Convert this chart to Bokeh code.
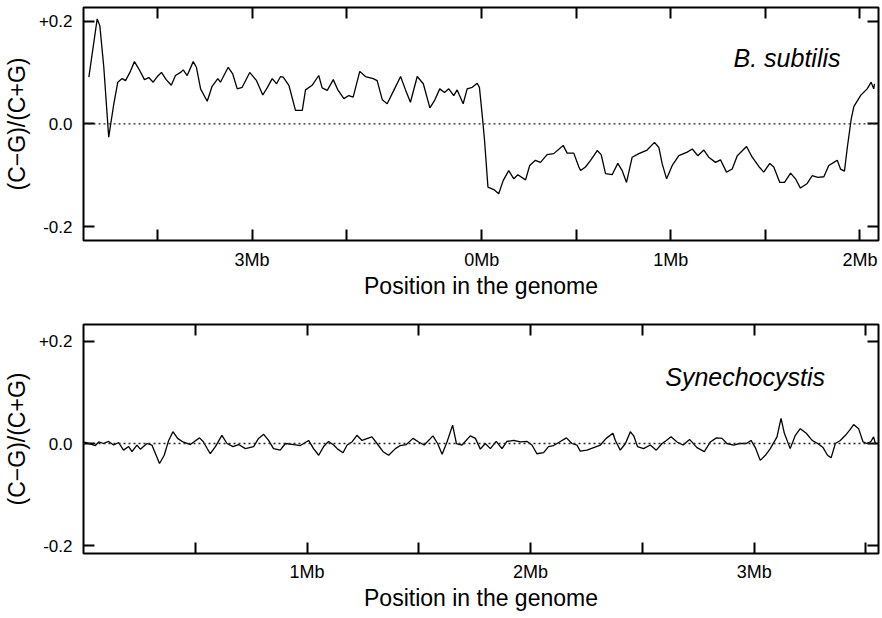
from bokeh.plotting import figure
from bokeh.layouts import column
from bokeh.models import FixedTicker, LinearAxis, Range1d, Span, Label
from bokeh.embed import file_html
from bokeh.resources import INLINE

FONT = "Liberation Sans"

# ---- B. subtilis: x is Mb along the plotted axis, which starts near 2.1 Mb,
# runs through the origin (genome length 4.2156 Mb, labelled 0Mb) and back to ~2.1 Mb
bs_len = 4.2156
bs_x = [2.137, 2.181, 2.195, 2.216, 2.242, 2.269, 2.290, 2.313, 2.331, 2.354,
        2.378, 2.401, 2.431, 2.454, 2.477, 2.499, 2.521, 2.546, 2.573, 2.595,
        2.622, 2.636, 2.657, 2.689, 2.706, 2.728, 2.763, 2.789, 2.819, 2.833,
        2.874, 2.898, 2.922, 2.948, 2.988, 3.024, 3.057, 3.080, 3.107, 3.130,
        3.151, 3.165, 3.195, 3.230, 3.248, 3.266, 3.283, 3.318, 3.353, 3.371,
        3.398, 3.430, 3.454, 3.486, 3.512, 3.535, 3.570, 3.600, 3.641, 3.662,
        3.689, 3.715, 3.750, 3.786, 3.812, 3.838, 3.874, 3.906, 3.941, 3.965,
        3.993, 4.018, 4.041, 4.067, 4.085, 4.117, 4.138, 4.165, 4.191, 4.203,
        4.218, 4.230, 4.248, 4.279, 4.305, 4.329, 4.358, 4.385, 4.406, 4.447,
        4.469, 4.499, 4.526, 4.561, 4.596, 4.646, 4.667, 4.702, 4.729, 4.738,
        4.764, 4.791, 4.826, 4.847, 4.870, 4.905, 4.935, 4.958, 4.981, 5.011,
        5.046, 5.090, 5.129, 5.152, 5.170, 5.193, 5.223, 5.258, 5.302, 5.329,
        5.358, 5.390, 5.416, 5.452, 5.478, 5.510, 5.540, 5.567, 5.616, 5.646,
        5.681, 5.707, 5.739, 5.760, 5.792, 5.817, 5.849, 5.875, 5.901, 5.937,
        5.963, 5.993, 6.025, 6.051, 6.078, 6.096, 6.113, 6.134, 6.149, 6.170,
        6.184, 6.219, 6.254, 6.275, 6.289, 6.293]
bs_y = [0.091, 0.204, 0.191, 0.110, -0.026, 0.039, 0.081, 0.088, 0.084, 0.100,
        0.121, 0.107, 0.086, 0.090, 0.081, 0.092, 0.100, 0.086, 0.075, 0.094,
        0.100, 0.105, 0.094, 0.121, 0.110, 0.068, 0.044, 0.073, 0.088, 0.081,
        0.110, 0.097, 0.068, 0.071, 0.100, 0.084, 0.056, 0.070, 0.088, 0.078,
        0.092, 0.091, 0.075, 0.026, 0.026, 0.026, 0.066, 0.075, 0.094, 0.070,
        0.065, 0.086, 0.066, 0.049, 0.055, 0.052, 0.102, 0.092, 0.088, 0.084,
        0.047, 0.039, 0.065, 0.092, 0.066, 0.042, 0.092, 0.078, 0.031, 0.045,
        0.068, 0.061, 0.068, 0.055, 0.066, 0.039, 0.068, 0.071, 0.079, 0.071,
        0.016, -0.032, -0.123, -0.128, -0.136, -0.110, -0.091, -0.107, -0.099, -0.109,
        -0.081, -0.071, -0.075, -0.060, -0.058, -0.042, -0.057, -0.057, -0.084, -0.091,
        -0.084, -0.071, -0.052, -0.060, -0.097, -0.099, -0.077, -0.091, -0.114, -0.065,
        -0.058, -0.051, -0.036, -0.046, -0.078, -0.107, -0.081, -0.062, -0.055, -0.049,
        -0.062, -0.051, -0.065, -0.075, -0.070, -0.094, -0.088, -0.062, -0.044, -0.065,
        -0.083, -0.094, -0.077, -0.084, -0.114, -0.114, -0.096, -0.107, -0.125, -0.116,
        -0.101, -0.104, -0.103, -0.081, -0.075, -0.071, -0.088, -0.092, -0.046, 0.010,
        0.034, 0.055, 0.068, 0.081, 0.068, 0.078]
bs_xrange = [2.1086, 6.314]
bs_yrange = [-0.227, 0.2263]
bs_ticks = [2.5, 3.0, 3.5, bs_len, bs_len + 0.5, bs_len + 1.0, bs_len + 1.5, bs_len + 2.0]
bs_tick_labels = ["", "3Mb", "", "0Mb", "", "1Mb", "", "2Mb"]

# ---- Synechocystis: x is Mb from position 0
syn_x = [0.000, 0.008, 0.053, 0.068, 0.090, 0.112, 0.135, 0.157, 0.179, 0.202,
         0.217, 0.239, 0.254, 0.284, 0.306, 0.340, 0.361, 0.381, 0.400, 0.421,
         0.445, 0.478, 0.496, 0.519, 0.535, 0.567, 0.590, 0.619, 0.642, 0.669,
         0.694, 0.724, 0.761, 0.783, 0.806, 0.828, 0.850, 0.880, 0.903, 0.940,
         0.970, 1.007, 1.029, 1.052, 1.074, 1.096, 1.119, 1.137, 1.161, 1.179,
         1.201, 1.223, 1.246, 1.271, 1.290, 1.313, 1.340, 1.365, 1.395, 1.417,
         1.444, 1.474, 1.499, 1.524, 1.563, 1.584, 1.604, 1.626, 1.651, 1.668,
         1.693, 1.730, 1.753, 1.775, 1.797, 1.820, 1.846, 1.872, 1.894, 1.924,
         1.954, 1.984, 2.006, 2.028, 2.058, 2.080, 2.103, 2.133, 2.160, 2.185,
         2.207, 2.222, 2.252, 2.282, 2.312, 2.338, 2.368, 2.379, 2.401, 2.424,
         2.446, 2.461, 2.478, 2.505, 2.535, 2.562, 2.588, 2.607, 2.628, 2.655,
         2.682, 2.711, 2.744, 2.777, 2.804, 2.831, 2.856, 2.878, 2.908, 2.935,
         2.965, 2.986, 3.005, 3.027, 3.050, 3.072, 3.102, 3.120, 3.135, 3.161,
         3.184, 3.206, 3.233, 3.259, 3.284, 3.308, 3.328, 3.344, 3.363, 3.385,
         3.408, 3.427, 3.445, 3.467, 3.487, 3.505, 3.522, 3.534, 3.542]
syn_y = [0.002, 0.002, -0.004, 0.003, 0.000, 0.004, -0.003, 0.002, -0.013, -0.006,
         -0.016, -0.003, -0.011, 0.000, -0.003, -0.039, -0.023, 0.006, 0.023, 0.010,
         0.003, -0.002, 0.004, 0.011, 0.004, -0.020, -0.006, 0.016, 0.000, -0.006,
         -0.002, -0.010, -0.006, 0.010, 0.018, 0.006, -0.010, -0.013, 0.000, -0.002,
         -0.004, 0.006, -0.010, -0.023, -0.006, 0.004, -0.003, -0.011, -0.018, -0.003,
         0.003, 0.016, 0.006, 0.010, 0.013, 0.000, -0.016, -0.023, -0.010, -0.004,
         -0.002, 0.010, 0.003, -0.003, 0.015, 0.000, -0.021, 0.003, 0.036, 0.000,
         -0.003, 0.015, 0.010, -0.011, 0.000, -0.010, 0.004, -0.010, 0.004, 0.006,
         0.003, 0.004, -0.003, -0.020, -0.018, -0.006, -0.004, 0.004, 0.011, 0.000,
         -0.003, -0.015, -0.013, -0.008, -0.003, 0.010, 0.020, 0.006, -0.013, 0.000,
         0.023, 0.015, -0.006, -0.010, -0.003, -0.013, 0.000, 0.006, 0.013, 0.003,
         -0.003, 0.008, -0.008, -0.016, 0.003, 0.011, 0.010, 0.000, -0.003, 0.000,
         0.000, 0.006, -0.008, -0.033, -0.023, -0.010, 0.013, 0.049, 0.020, -0.010,
         0.016, 0.029, 0.020, 0.006, 0.000, -0.008, -0.023, -0.028, 0.000, 0.006,
         0.016, 0.026, 0.037, 0.029, 0.003, 0.000, 0.004, 0.013, 0.000]
syn_xrange = [0.0, 3.556]
syn_yrange = [-0.215, 0.2326]
syn_ticks = [0.5, 1.0, 1.5, 2.0, 2.5, 3.0, 3.5]
syn_tick_labels = ["", "1Mb", "", "2Mb", "", "3Mb", ""]

# ---- shared y ticks
y_ticks = [-0.2, 0.0, 0.2]
y_tick_labels = ["-0.2", "0.0", "+0.2"]

x_title = "Position in the genome"
y_title = "(C\u2212G)/(C+G)"


def tick_style(ax):
    for kind in ("major", "minor"):
        setattr(ax, kind + "_tick_in", 11)
        setattr(ax, kind + "_tick_out", 0)
        setattr(ax, kind + "_tick_line_width", 2)
        setattr(ax, kind + "_tick_line_color", "black")
    ax.axis_line_color = None


def split_ticks(ticks, labels):
    lab = [t for t, l in zip(ticks, labels) if l]
    txt = [l for l in labels if l]
    unl = [t for t, l in zip(ticks, labels) if not l]
    return lab, txt, unl


def make_panel(xs, ys, xr, yr, xticks, xlabels, name, name_x, name_y,
               top_border, frame_h, tick_standoff):
    p = figure(frame_width=795, frame_height=frame_h,
               x_range=Range1d(*xr), y_range=Range1d(*yr),
               output_backend="svg", toolbar_location=None,
               min_border_left=83, min_border_right=3,
               min_border_top=top_border, min_border_bottom=0,
               x_axis_label=x_title, y_axis_label=y_title)
    p.grid.visible = False
    p.outline_line_color = "black"
    p.outline_line_width = 2
    p.background_fill_color = "white"
    p.border_fill_color = "white"

    lab, txt, unl = split_ticks(xticks, xlabels)
    xa = p.xaxis[0]
    xa.ticker = FixedTicker(ticks=lab, minor_ticks=unl)
    xa.major_label_overrides = dict(zip(lab, txt))
    tick_style(xa)
    xa.major_label_standoff = tick_standoff
    xa.major_label_text_font = FONT
    xa.major_label_text_font_size = "18px"
    xa.major_label_text_line_height = 1.0
    xa.major_label_text_color = "black"
    xa.axis_label_text_font = FONT
    xa.axis_label_text_font_size = "23px"
    xa.axis_label_text_line_height = 1.0
    xa.axis_label_text_font_style = "normal"
    xa.axis_label_text_color = "black"
    xa.axis_label_standoff = 0

    ya = p.yaxis[0]
    ya.ticker = FixedTicker(ticks=y_ticks)
    ya.major_label_overrides = dict(zip(y_ticks, y_tick_labels))
    tick_style(ya)
    ya.major_label_standoff = 11
    ya.major_label_text_font = FONT
    ya.major_label_text_font_size = "17px"
    ya.major_label_text_color = "black"
    ya.axis_label_text_font = FONT
    ya.axis_label_text_font_size = "23px"
    ya.axis_label_text_line_height = 1.0
    ya.axis_label_text_font_style = "normal"
    ya.axis_label_text_color = "black"
    ya.axis_label_standoff = 6

    top = LinearAxis(ticker=FixedTicker(ticks=[], minor_ticks=list(xticks)),
                     major_label_standoff=0)
    tick_style(top)
    p.add_layout(top, "above")
    right = LinearAxis(ticker=FixedTicker(ticks=[], minor_ticks=list(y_ticks)),
                       major_label_standoff=0)
    tick_style(right)
    p.add_layout(right, "right")

    p.add_layout(Span(location=0, dimension="width", line_color="#222222",
                      line_width=1.3, line_dash="2 3"))
    p.line(xs, ys, line_color="black", line_width=1.3)
    p.add_layout(Label(x=name_x, y=name_y, text=name, text_font=FONT,
                       text_font_size="25px", text_font_style="italic",
                       text_color="black", text_baseline="alphabetic", text_align="left"))
    return p


p1 = make_panel(bs_x, bs_y, bs_xrange, bs_yrange, bs_ticks, bs_tick_labels,
                "B. subtilis", 5.547, 0.129, 7, 233, 9)
p2 = make_panel(syn_x, syn_y, syn_xrange, syn_yrange, syn_ticks, syn_tick_labels,
                "Synechocystis", 2.602, 0.130, 23, 229, 8)

layout = column(p1, p2)
open("out.html", "w").write(file_html(layout, INLINE))
